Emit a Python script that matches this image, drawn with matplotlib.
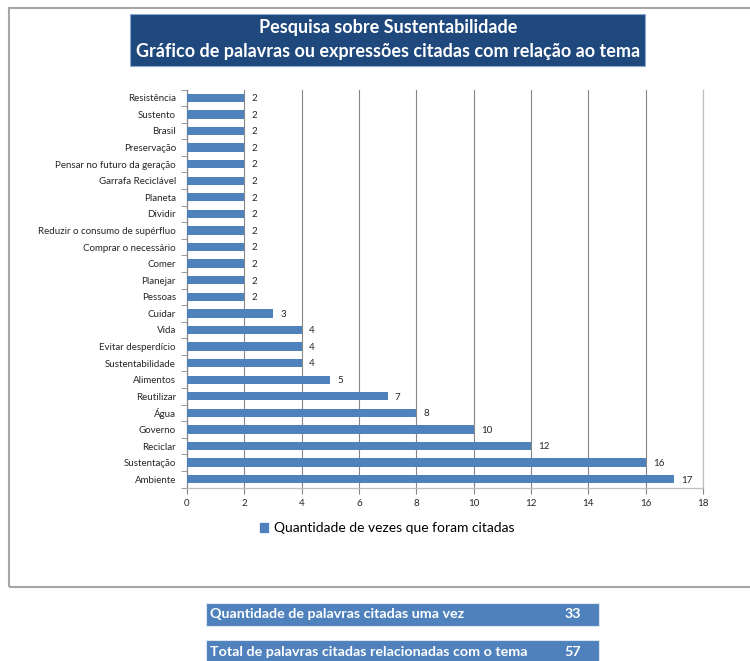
import matplotlib
matplotlib.use("Agg")
import matplotlib.patches as mpatches
import matplotlib.pyplot as plt
import numpy as np

# Categories as listed top-to-bottom in the chart
categories = [
    "Resistência", "Sustento", "Brasil", "Preservação",
    "Pensar no futuro da geração", "Garrafa Reciclável", "Planeta", "Dividir",
    "Reduzir o consumo de supérfluo", "Comprar o necessário", "Comer",
    "Planejar", "Pessoas", "Cuidar", "Vida", "Evitar desperdício",
    "Sustentabilidade", "Alimentos", "Reutilizar", "Água", "Governo",
    "Reciclar", "Sustentação", "Ambiente",
]
counts = [2, 2, 2, 2, 2, 2, 2, 2, 2, 2, 2, 2, 2, 3, 4, 4, 4, 5, 7, 8, 10, 12, 16, 17]
x_ticks = [0, 2, 4, 6, 8, 10, 12, 14, 16, 18]

title_lines = ["Pesquisa sobre Sustentabilidade",
               "Gráfico de palavras ou expressões citadas com relação ao tema"]
legend_label = "Quantidade de vezes que foram citadas"
summary_labels = ["Quantidade de palavras citadas uma vez",
                  "Total de palavras citadas relacionadas com o tema"]
summary_values = [33, 57]

plt.rcParams["font.family"] = ["Lato", "DejaVu Sans"]

W, H = 750, 661
BAR = "#4F81BD"
GRID = "#868686"
TXT = "#262626"

fig = plt.figure(figsize=(W / 100, H / 100), dpi=100)


def fx(px):
    return px / W


def fy(py):
    return 1 - py / H


# outer chart frame
fig.patches.append(mpatches.Rectangle((fx(9), fy(587)), fx(760 - 9), (587 - 8) / H,
                                      transform=fig.transFigure, facecolor="none",
                                      edgecolor="#A6A6A6", linewidth=1.5))

# title box
fig.patches.append(mpatches.Rectangle((fx(130), fy(66)), fx(645 - 130), (66 - 14) / H,
                                      transform=fig.transFigure, facecolor="#1F497D",
                                      edgecolor="#8EA9CF", linewidth=0.8))
fig.text(fx(388), fy(28), title_lines[0], color="white", fontsize=13,
         fontweight="bold", ha="center", va="center")
fig.text(fx(388), fy(52), title_lines[1], color="white", fontsize=13,
         fontweight="bold", ha="center", va="center")

ax = fig.add_axes([fx(187), fy(487.5), fx(703 - 187), (487.5 - 89.5) / H])
y = np.arange(len(categories))
ax.barh(y, counts, height=0.5, color=BAR, zorder=3)
ax.set_ylim(len(categories) - 0.5, -0.5)
ax.set_xlim(0, 18)

for yi, v in zip(y, counts):
    ax.text(v + 0.25, yi + 0.05, str(v), fontsize=7, color=TXT,
            ha="left", va="center")

ax.set_xticks(x_ticks)
ax.set_xticklabels([str(t) for t in x_ticks], fontsize=7, color=TXT)
ax.set_yticks(y)
ax.set_yticklabels(categories, fontsize=7, color=TXT)
ax.tick_params(axis="y", length=0, pad=8)
ax.set_yticks(np.arange(-0.5, len(categories), 1.0), minor=True)
ax.tick_params(axis="y", which="minor", length=4, color=GRID, direction="out")
ax.tick_params(axis="x", length=4, color=GRID, direction="out", pad=4)

ax.grid(axis="x", color=GRID, linewidth=0.8, zorder=0)
ax.spines["top"].set_visible(False)
for s in ["left", "bottom", "right"]:
    ax.spines[s].set_linewidth(0.9)
ax.spines["right"].set_color("#BFBFBF")
ax.spines["bottom"].set_color("#BFBFBF")
ax.spines["left"].set_color(GRID)

# legend
handle = mpatches.Patch(color=BAR, label=legend_label)
fig.legend(handles=[handle], loc="center left", bbox_to_anchor=(fx(260), fy(528)),
           frameon=False, fontsize=10, handlelength=0.6, handleheight=0.6,
           handletextpad=0.4, borderaxespad=0, borderpad=0)

# summary boxes below chart
for i, (lab, val) in enumerate(zip(summary_labels, summary_values)):
    top = 603 + i * 37
    fig.patches.append(mpatches.Rectangle((fx(206), fy(top + 23)), fx(599 - 206), 23 / H,
                                          transform=fig.transFigure, facecolor=BAR,
                                          edgecolor="#DCE6F1", linewidth=0.8))
    fig.text(fx(210), fy(top + 11.5), lab, color="white", fontsize=10.3,
             fontweight="bold", ha="left", va="center")
    fig.text(fx(573), fy(top + 11.5), str(val), color="white", fontsize=10.3,
             fontweight="bold", ha="center", va="center")

fig.savefig("out.png", dpi=100)
